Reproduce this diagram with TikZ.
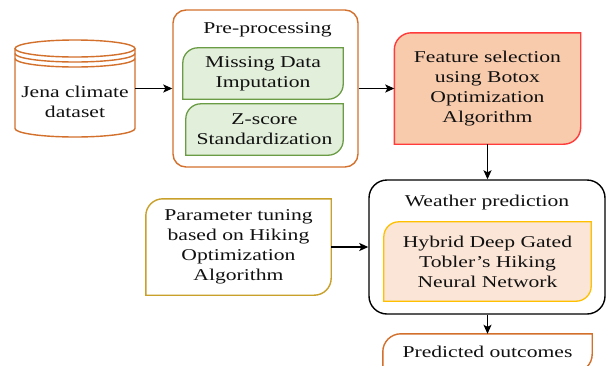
\documentclass[tikz,border=0pt]{standalone}
\usepackage{fontspec}
\setmainfont{Liberation Serif}[FakeStretch=1.31]
\usetikzlibrary{arrows.meta,calc}
\pgfdeclarelayer{background}
\pgfsetlayers{background,main}
\definecolor{corange}{HTML}{D2702C}
\definecolor{cgreen}{HTML}{6A9B45}
\definecolor{fgreen}{HTML}{E2EFDA}
\definecolor{cred}{HTML}{FF3B3B}
\definecolor{fpeach}{HTML}{F8CBAD}
\definecolor{fpeachlight}{HTML}{FBE5D6}
\definecolor{cgold}{HTML}{C9A02A}
\definecolor{cyellow}{HTML}{FFC000}
\definecolor{ctext}{HTML}{111111}
\newcommand\fs{\fontsize{16.5}{20}\selectfont}
\newcommand\leafbox[3]{%
  \draw[#3] ([yshift=-#2]#1.north west) arc[start angle=180,end angle=90,radius=#2] -- (#1.north east) -- ([yshift=#2]#1.south east) arc[start angle=0,end angle=-90,radius=#2] -- (#1.south west) -- cycle;}
\tikzset{
  txt/.style={font=\fs, text=ctext, align=center, inner sep=0pt},
  arr/.style={draw=black, line width=1.3pt, -{Stealth[length=9pt,width=8pt,inset=2pt]}},
  cyl/.style={draw=corange, line width=1.4pt},
}
\begin{document}
\begin{tikzpicture}[x=1pt,y=1pt]
\useasboundingbox (0,0) rectangle (606,-365);
\clip (0,0) rectangle (606,-365);
% cylinder
\draw[cyl, fill=white] (15,-48.5) -- (15,-128.5) arc[start angle=180,end angle=360,x radius=60pt,y radius=8.5pt] -- (135,-48.5);
\draw[cyl] (75,-48.5) ellipse[x radius=60pt, y radius=8.5pt];
\draw[cyl] (15,-53.5) arc[start angle=180,end angle=360,x radius=60pt,y radius=8.5pt];
\draw[cyl] (15,-58.5) arc[start angle=180,end angle=360,x radius=60pt,y radius=8.5pt];
\node[txt, minimum width=120pt] (data) at (75,-102) {Jena climate\\dataset};
% pre-processing
\node[draw=corange, line width=1.4pt, rounded corners=13pt, minimum width=185pt, minimum height=157pt, inner sep=0pt] (pre) at (265.5,-88.5) {};
\node[txt] (pretitle) at (267.5,-30) {Pre-processing};
\node[txt, minimum width=160pt, minimum height=51pt] (miss) at (263,-73.5) {Missing Data\\Imputation};
\node[txt, minimum width=157pt, minimum height=51pt] (zs) at (264.5,-129.5) {Z-score\\Standardization};
% feature selection
\node[txt, minimum width=186pt, minimum height=111pt] (feat) at (487.5,-88.5) {Feature selection\\using Botox\\Optimization\\Algorithm};
% weather prediction
\node[draw=black, line width=1.4pt, rounded corners=18pt, minimum width=236pt, minimum height=134pt, inner sep=0pt] (wp) at (487,-247) {};
\node[txt] (wptitle) at (487,-203) {Weather prediction};
\node[txt, minimum width=207pt, minimum height=79pt] (hyb) at (487.5,-261.5) {Hybrid Deep Gated\\Tobler’s Hiking\\Neural Network};
% parameter tuning
\node[txt, minimum width=185pt, minimum height=96pt] (param) at (238.5,-247) {Parameter tuning\\based on Hiking\\Optimization\\Algorithm};
% predicted
\node[txt, minimum width=209pt, minimum height=38pt] (pred) at (487.5,-353) {};
\node[txt] (predtxt) at (487.5,-351.5) {Predicted outcomes};
\begin{pgfonlayer}{background}
\leafbox{miss}{15pt}{draw=cgreen, fill=fgreen, line width=1.3pt}
\leafbox{zs}{15pt}{draw=cgreen, fill=fgreen, line width=1.3pt}
\leafbox{feat}{17pt}{draw=cred, fill=fpeach, line width=1.4pt}
\leafbox{hyb}{15pt}{draw=cyellow, fill=fpeachlight, line width=1.3pt}
\leafbox{param}{17pt}{draw=cgold, fill=white, line width=1.4pt}
\leafbox{pred}{18pt}{draw=corange, fill=white, line width=1.4pt}
\end{pgfonlayer}
% connectors
\draw[arr] (data.east |- pre.west) -- (pre.west);
\draw[arr] (pre.east) -- (feat.west);
\draw[arr] (feat.south) -- (feat.south |- wp.north);
\draw[arr] (param.east) -- (wp.west);
\draw[arr] (wp.south -| pred.north) -- (pred.north);
\end{tikzpicture}
\end{document}
